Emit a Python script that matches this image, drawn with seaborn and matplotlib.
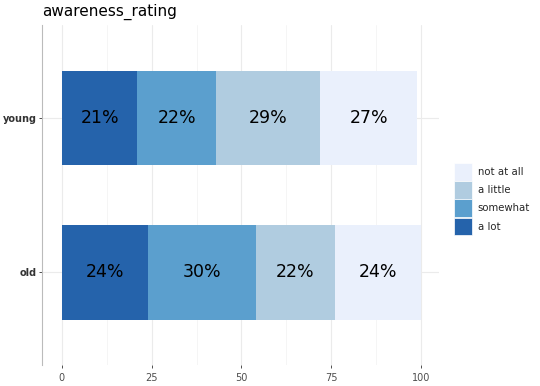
import numpy as np
import pandas as pd
import matplotlib.pyplot as plt
import seaborn as sns
from matplotlib.patches import Patch
from matplotlib.ticker import MultipleLocator

groups = ['young', 'old']
levels = ['a lot', 'somewhat', 'a little', 'not at all']
a_lot = [21, 24]
somewhat = [22, 30]
a_little = [29, 22]
not_at_all = [27, 24]
colors = {'a lot': '#2563AB', 'somewhat': '#5B9FCE',
          'a little': '#B0CCE0', 'not at all': '#EAF0FC'}

vals = pd.DataFrame({'group': groups, 'a lot': a_lot, 'somewhat': somewhat,
                     'a little': a_little, 'not at all': not_at_all})
cum = vals[levels].cumsum(axis=1)
cum['group'] = vals['group']

sns.set_style('white')
fig = plt.figure(figsize=(5.4, 3.86), dpi=100)
ax = fig.add_axes([0.078, 0.054, 0.735, 0.881])

# stacked bars: draw cumulative totals, widest first
for lev in reversed(levels):
    sns.barplot(data=cum, x=lev, y='group', order=groups, orient='h',
                color=colors[lev], width=0.61, saturation=1, ax=ax,
                edgecolor='none', zorder=3)

for i in range(len(groups)):
    left = 0
    for lev in levels:
        v = vals.loc[i, lev]
        ax.text(left + v / 2, i, f'{v}%', ha='center', va='center',
                fontsize=12.5, color='black', zorder=4)
        left += v

ax.set_xlim(-5.5, 105)
ax.set_ylim(1.6, -0.6)
ax.xaxis.set_major_locator(MultipleLocator(25))
ax.xaxis.set_minor_locator(MultipleLocator(12.5))
ax.grid(which='major', axis='x', color='#EBEBEB', lw=0.8, zorder=0)
ax.grid(which='minor', axis='x', color='#F4F4F4', lw=0.6, zorder=0)
ax.grid(which='major', axis='y', color='#EBEBEB', lw=0.8, zorder=0)
ax.set_xlabel('')
ax.set_ylabel('')
for s in ['top', 'right', 'bottom']:
    ax.spines[s].set_visible(False)
ax.spines['left'].set_color('#BBBBBB')
ax.spines['left'].set_linewidth(0.8)
ax.tick_params(axis='x', which='major', length=2.5, width=0.6, color='#333333',
               labelsize=7, labelcolor='#4D4D4D', pad=3, bottom=True)
ax.tick_params(axis='x', which='minor', length=0)
ax.tick_params(axis='y', length=2.5, width=0.6, color='#333333',
               labelsize=7, labelcolor='#333333', pad=1.5, left=True)
for t in ax.get_yticklabels():
    t.set_fontweight('bold')

fig.text(0.078, 0.968, 'awareness_rating', fontsize=11, ha='left', va='center',
         color='black')

handles = [Patch(facecolor=colors[l], edgecolor='white', linewidth=0.5)
           for l in reversed(levels)]
fig.legend(handles, list(reversed(levels)), loc='center left',
           bbox_to_anchor=(0.832, 0.484), frameon=False, fontsize=7.3,
           handlelength=1.7, handleheight=2.3, handletextpad=0.6,
           labelspacing=0.05, borderpad=0)

fig.savefig('out.png', dpi=100)
